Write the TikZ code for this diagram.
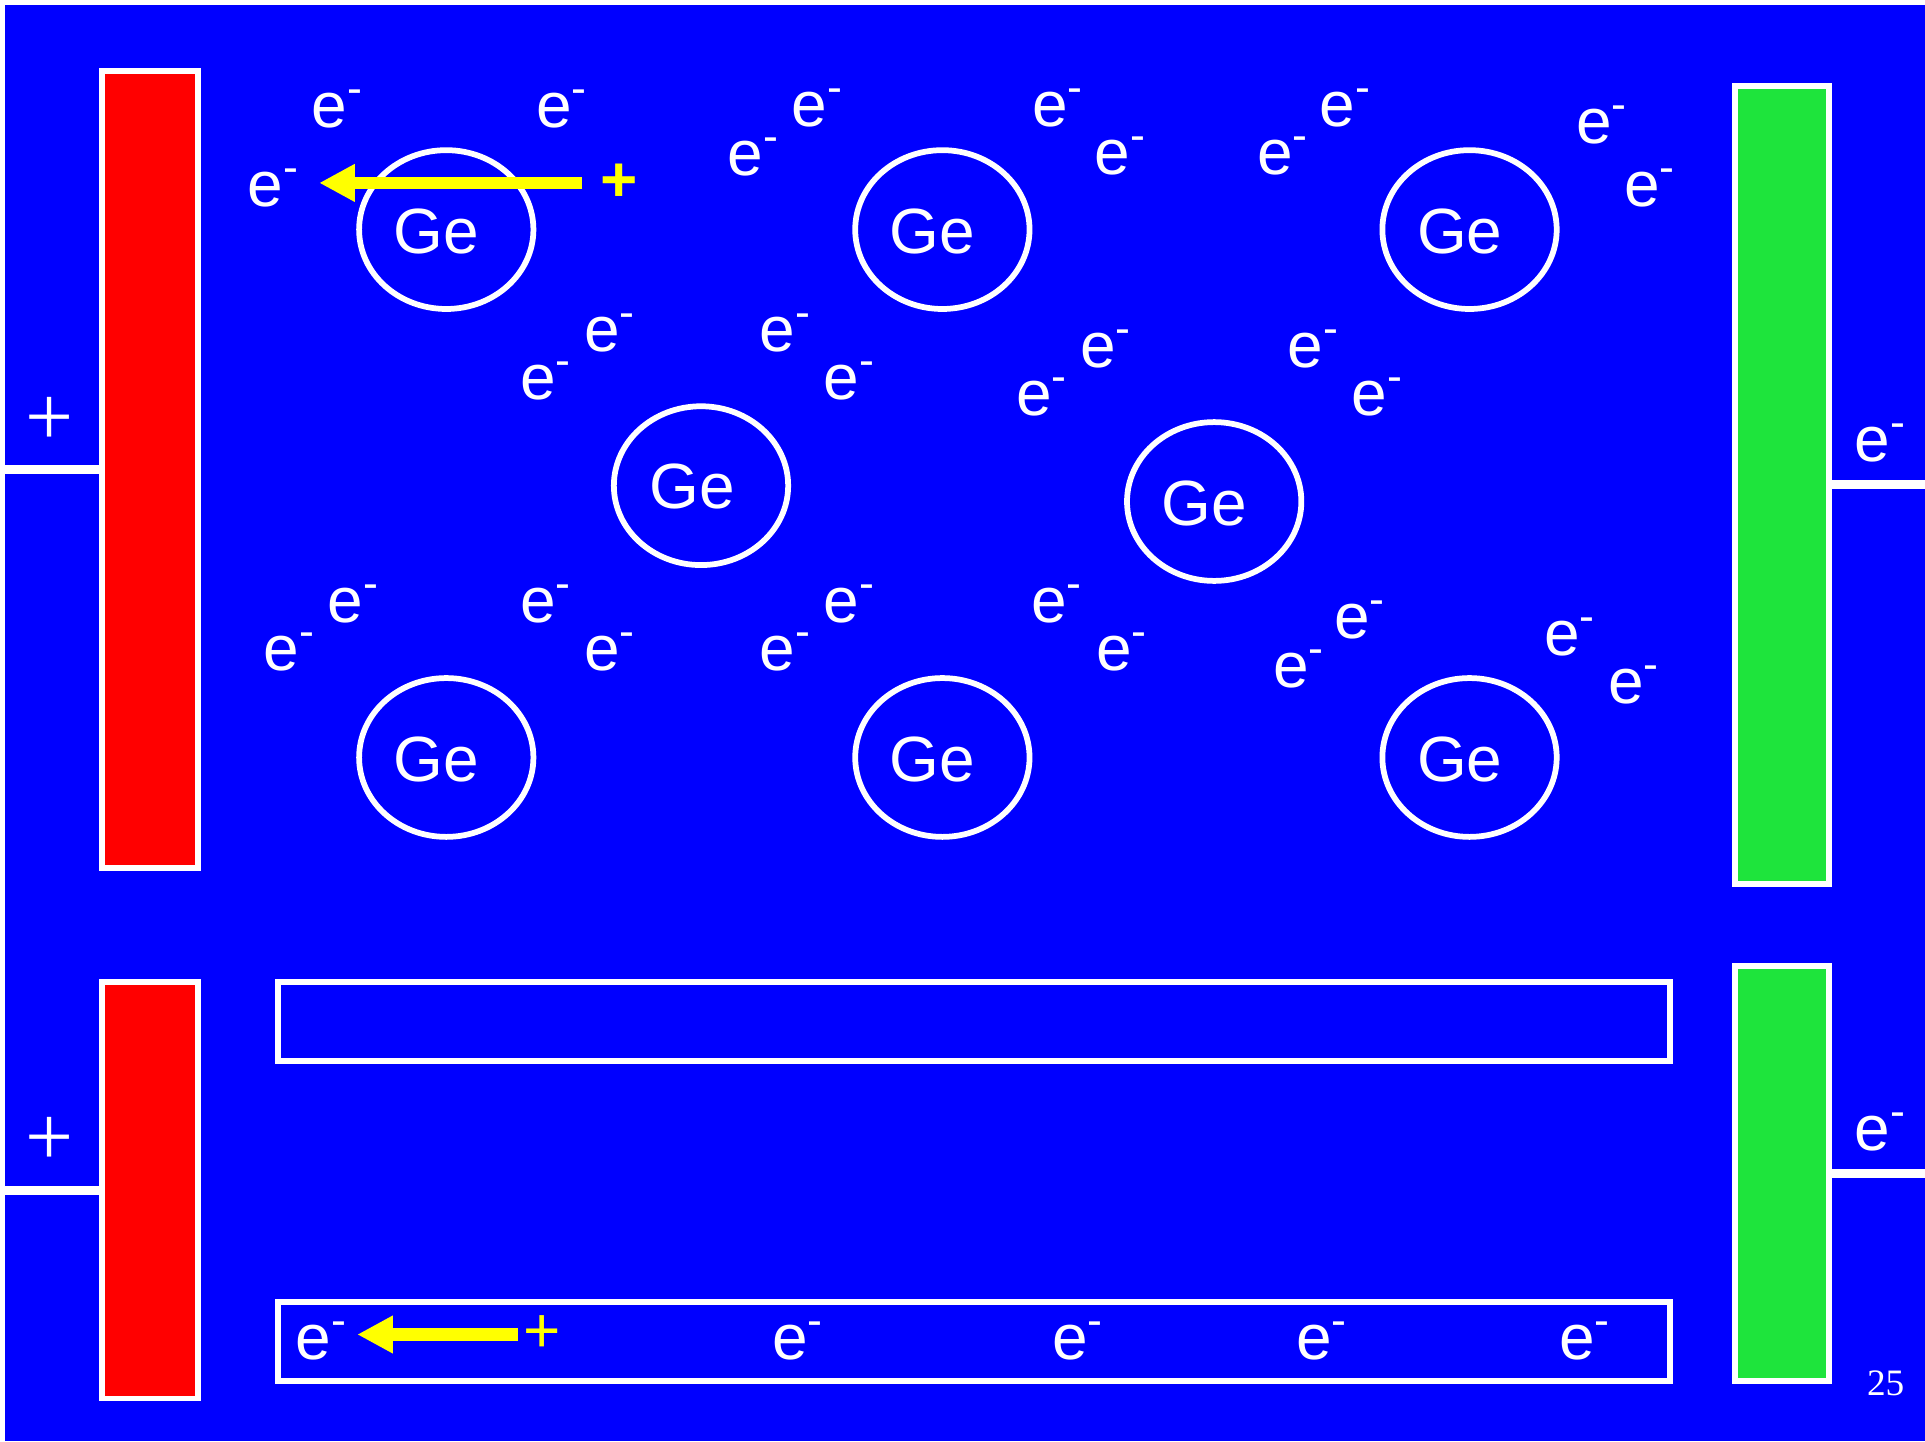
\documentclass[tikz,border=0pt]{standalone}
\usepackage{fontspec}
\setmainfont{Liberation Sans}
\newfontfamily\pagefont{Liberation Serif}
\usepackage{tikz}
\usetikzlibrary{shapes.geometric,arrows.meta,calc}
\definecolor{slide}{RGB}{0,0,255}
\definecolor{anode}{RGB}{255,0,0}
\definecolor{cathode}{RGB}{30,228,60}
\definecolor{holecol}{RGB}{255,255,0}
\newcommand{\elec}{e\textsuperscript{-}}

\begin{document}
\begin{tikzpicture}[x=0.4592bp,y=-0.4592bp,
  txt/.style={text=white,inner sep=0pt,outer sep=0pt,font=\fontsize{24}{28}\selectfont},
  sign/.style={text=white,inner sep=0pt,outer sep=0pt,font=\pagefont\fontsize{32}{36}\selectfont},
  atom/.style={ellipse,draw=white,line width=2.15bp,minimum width=65.2bp,minimum height=59.4bp,inner sep=0pt,outer sep=0pt},
  plate/.style={rectangle,draw=white,line width=2.15bp,inner sep=0pt,outer sep=0pt},
  band/.style={plate,fill=slide,minimum width=520.5bp,minimum height=29.6bp},
  wire/.style={draw=white,line width=3.4bp},
  drift/.style={draw=holecol,-{Triangle[length=13.3bp,width=13.2bp]}}]
\useasboundingbox (0,0) rectangle (1568,1174);
\fill[white] (0,0) rectangle (1568,1174);
\fill[slide] (4,4) rectangle (1568,1174);
\coordinate (lft) at (4,0); \coordinate (rgt) at (1568,0);

% electrodes
\node[plate,fill=anode,minimum width=35.8bp,minimum height=298bp] (r1) at (122,382.5) {};
\node[plate,fill=anode,minimum width=35.8bp,minimum height=155.7bp] (r2) at (122,969.5) {};
\node[plate,fill=cathode,minimum width=35.4bp,minimum height=298.5bp] (c1) at (1451.5,395) {};
\node[plate,fill=cathode,minimum width=35.4bp,minimum height=155.2bp] (c2) at (1451.5,956) {};
\draw[wire] (r1.west) -- (r1.west -| lft); \draw[wire] (r2.west) -- (r2.west -| lft);
\draw[wire] (c1.east) -- (c1.east -| rgt); \draw[wire] (c2.east) -- (c2.east -| rgt);
\node[sign] (s1) at (40,343) {+}; \node[sign] (s2) at (40,930) {+};
\node[txt] (o1) at (1532,361) {\elec}; \node[txt] (o2) at (1532,922) {\elec};

% lattice
\node[atom] (g1) at (363.5,187) {}; \node[atom] (g2) at (767.6,187) {}; \node[atom] (g3) at (1197,187) {};
\node[atom] (g4) at (571,395.6) {}; \node[atom] (g5) at (989,408.5) {};
\node[atom] (g6) at (363.5,617) {}; \node[atom] (g7) at (767.6,617) {}; \node[atom] (g8) at (1197,617) {};
\node[txt] at ($(g1)+(-8,1.5)$) {Ge}; \node[txt] at ($(g2)+(-8,1.5)$) {Ge}; \node[txt] at ($(g3)+(-8,1.5)$) {Ge};
\node[txt] at ($(g4)+(-7,1)$) {Ge}; \node[txt] at ($(g5)+(-8,1.5)$) {Ge};
\node[txt] at ($(g6)+(-8,1.5)$) {Ge}; \node[txt] at ($(g7)+(-8,1.5)$) {Ge}; \node[txt] at ($(g8)+(-8,1.5)$) {Ge};

% free electrons
\node[txt] (e1) at (275,89) {\elec}; \node[txt] (e2) at (458,89) {\elec}; \node[txt] (e3) at (666,88) {\elec};
\node[txt] (e4) at (862,88) {\elec}; \node[txt] (e5) at (1096,88) {\elec}; \node[txt] (e6) at (1305,102) {\elec};
\node[txt] (e7) at (614,128) {\elec}; \node[txt] (e8) at (913,127) {\elec}; \node[txt] (e9) at (1045,127) {\elec};
\node[txt] (e10) at (1344,153) {\elec}; \node[txt] (e11) at (223,153) {\elec};
\node[txt] (e12) at (497,271) {\elec}; \node[txt] (e13) at (640,271) {\elec}; \node[txt] (e14) at (445,310) {\elec};
\node[txt] (e15) at (692,310) {\elec}; \node[txt] (e16) at (901,284) {\elec}; \node[txt] (e17) at (1070,284) {\elec};
\node[txt] (e18) at (849,323) {\elec}; \node[txt] (e19) at (1122,323) {\elec};
\node[txt] (e20) at (288,492) {\elec}; \node[txt] (e21) at (445,492) {\elec}; \node[txt] (e22) at (692,492) {\elec};
\node[txt] (e23) at (861,492) {\elec}; \node[txt] (e24) at (1108,505) {\elec}; \node[txt] (e25) at (1279,519) {\elec};
\node[txt] (e26) at (236,531) {\elec}; \node[txt] (e27) at (497,531) {\elec}; \node[txt] (e28) at (640,531) {\elec};
\node[txt] (e29) at (914,531) {\elec}; \node[txt] (e30) at (1058,545) {\elec}; \node[txt] (e31) at (1331,558) {\elec};

% hole moving left
\node[txt,text=holecol,font=\bfseries\fontsize{24}{28}\selectfont] (h1) at (504.6,149) {+};
\coordinate (t1) at (260,149);
\draw[drift,line width=4.4bp,shorten <=7bp] (h1) -- (t1);

% bands
\node[band] (k1) at (793.3,832.2) {};
\node[band,minimum height=29.7bp] (k2) at (793.3,1092.7) {};
\node[txt] (b1) at (262,1092) {\elec}; \node[txt] (b2) at (650,1092) {\elec}; \node[txt] (b3) at (878,1092) {\elec};
\node[txt] (b4) at (1077,1092) {\elec}; \node[txt] (b5) at (1291,1092) {\elec};
\node[txt,text=holecol] (h2) at (441.6,1087) {+};
\coordinate (t2) at (291,1087);
\draw[drift,line width=4.6bp,shorten <=2bp] (h2) -- (t2);

\node[txt,font=\pagefont\fontsize{14}{16}\selectfont] (pg) at (1536,1127) {25};
\end{tikzpicture}
\end{document}
